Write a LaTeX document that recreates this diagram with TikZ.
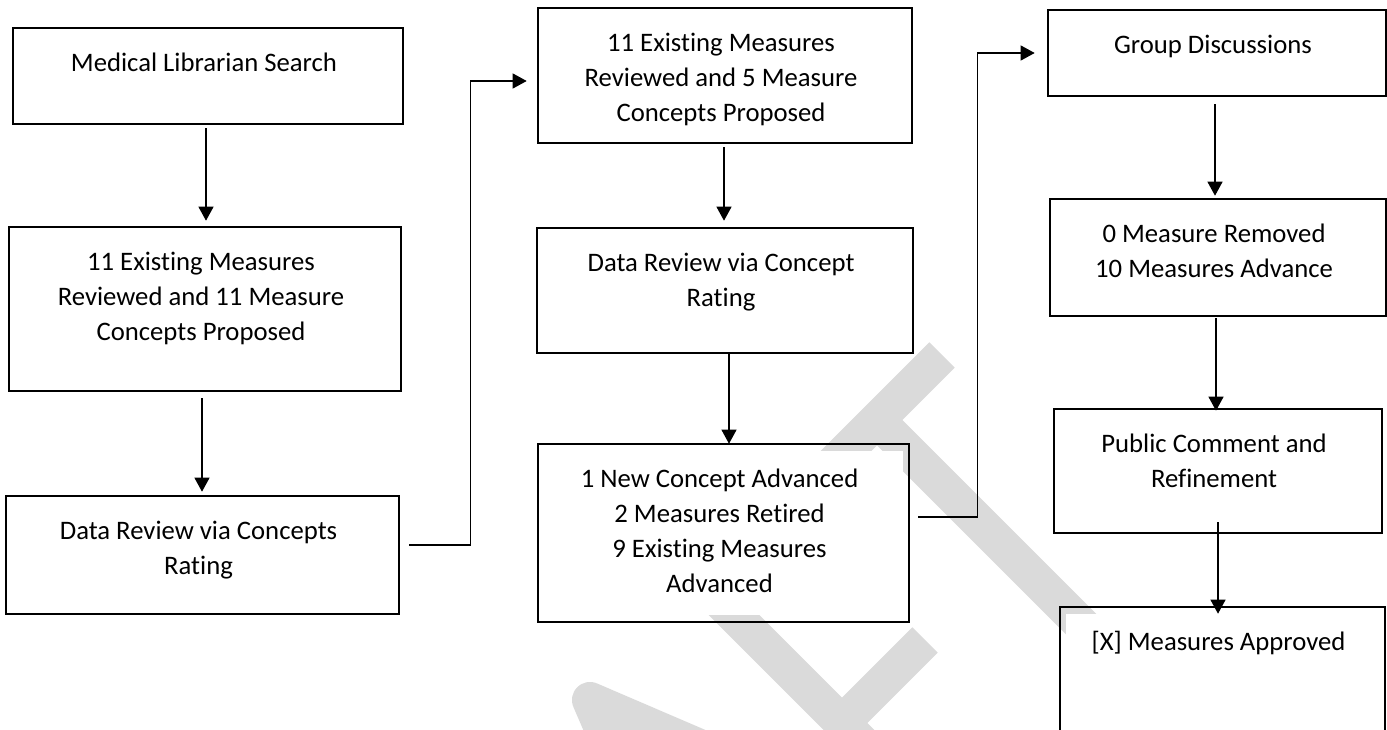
\documentclass[tikz,border=0pt]{standalone}
\usepackage{fontspec}
\setmainfont{Carlito}[Ligatures=NoCommon]
\usetikzlibrary{arrows.meta,backgrounds}
\definecolor{wmgray}{RGB}{218,218,218}
% fixed-size text frame: text starts near the top, centred
\newcommand{\boxtext}[3]{\parbox[c][#2][t]{#1}{\centering\rightskip=8pt plus 1fil\relax\vspace*{19pt}\strut #3}}
\begin{document}
\begin{tikzpicture}[x=1pt,y=-1pt,
  box/.style={draw=black, line width=2.6pt, inner sep=0pt, font=\fontsize{26.7}{35}\selectfont},
  conn/.style={draw=black, line width=1.2pt, -{Triangle[width=15pt,length=14pt]}},
  wm/.style={draw=wmgray, line width=36pt}]
\useasboundingbox (0,0) rectangle (1387,730);
\clip (0,0) rectangle (1387,730);

% first column
\node[box] (b1) at (208,76)    {\boxtext{390pt}{96pt}{Medical Librarian Search}};
\node[box] (b2) at (205,309)   {\boxtext{392pt}{164pt}{11 Existing Measures\\Reviewed and 11 Measure\\Concepts Proposed}};
\node[box] (b3) at (202.5,555) {\boxtext{393pt}{118pt}{Data Review via Concepts\\Rating}};
% second column
\node[box] (b4) at (725,75.5)  {\boxtext{374pt}{135pt}{11 Existing Measures\\Reviewed and 5 Measure\\Concepts Proposed}};
\node[box] (b5) at (725,290.5) {\boxtext{376pt}{125pt}{Data Review via Concept\\Rating}};
\node[box] (b6) at (723.5,533) {\boxtext{371pt}{178pt}{1 New Concept Advanced\\2 Measures Retired\\9 Existing Measures\\Advanced}};
% third column
\node[box] (b7) at (1217,53)     {\boxtext{338pt}{86pt}{Group Discussions}};
\node[box] (b8) at (1218,257.5)  {\boxtext{336pt}{117pt}{0 Measure Removed\\10 Measures Advance}};
\node[box] (b9) at (1218,471)    {\boxtext{328pt}{124pt}{Public Comment and\\Refinement}};
\node[box] (b10) at (1222.5,682) {\boxtext{325pt}{150pt}{[X] Measures Approved}};

% vertical flow arrows
\draw[conn] ([shift={(-2pt,-3pt)}]b1.south) -- ([shift={(1pt,5pt)}]b2.north);
\draw[conn] ([shift={(-3pt,-6pt)}]b2.south) -- ([shift={(-0.5pt,3pt)}]b3.north);
\draw[conn] ([shift={(-1pt,-3pt)}]b4.south) -- ([shift={(-1pt,6pt)}]b5.north);
\draw[conn] ([shift={(4pt,1pt)}]b5.south) -- ([shift={(5.5pt,-1pt)}]b6.north);
\draw[conn] ([shift={(-2pt,-7pt)}]b7.south) -- ([shift={(-3pt,2pt)}]b8.north);
\draw[conn] ([shift={(-2pt,-1pt)}]b8.south) -- ([shift={(-2pt,-3pt)}]b9.north);
\draw[conn] ([shift={(0pt,12pt)}]b9.south) -- ([shift={(-4.5pt,-8pt)}]b10.north);

% elbow links between columns
\draw[conn] ([shift={(9pt,10pt)}]b3.east) -- ++(61pt,0pt) |- ([shift={(-10pt,-5.5pt)}]b4.west);
\draw[conn] ([shift={(8pt,16pt)}]b6.east) -- ++(59pt,0pt) |- ([shift={(-12pt,0pt)}]b7.west);

% faint watermark lettering behind the boxes
\begin{pgfonlayer}{background}
  \draw[wm] (812,485) -- (942,355);
  \draw[wm] (877,420) -- (1160,703);
  \draw[wm] (708,589) -- (800,497);
  \draw[wm] (708,589) -- (1010,891);
  \draw[wm] (842,723) -- (925,640);
  \draw[wm, line join=round] (748,1068) -- (590,700) -- (958,858);
  \foreach \n in {b1,b2,b3,b4,b5,b6,b7,b8,b9,b10}
    \fill[white] ([shift={(7pt,-8pt)}]\n.north west) rectangle ([shift={(-7pt,8pt)}]\n.south east);
\end{pgfonlayer}
\end{tikzpicture}
\end{document}
